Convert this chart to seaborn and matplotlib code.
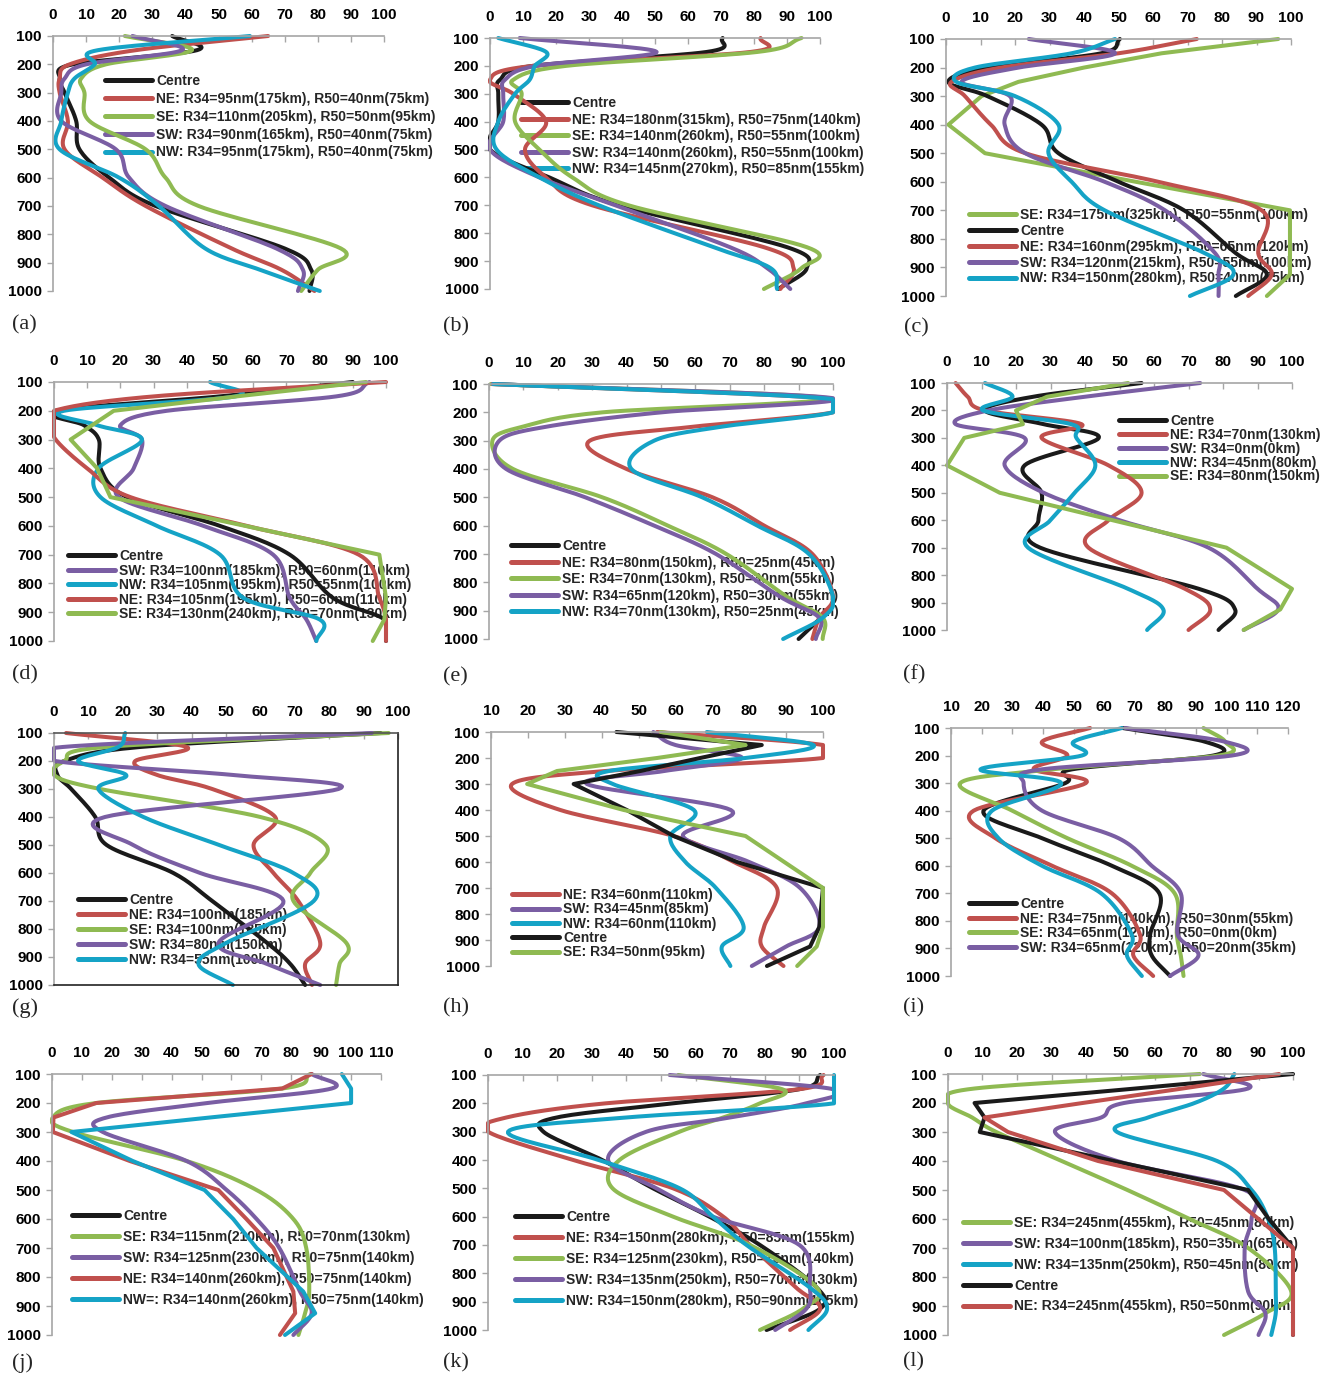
import numpy as np
import matplotlib
matplotlib.use("Agg")
import matplotlib.pyplot as plt
import seaborn as sns

nan = np.nan
levels = [100, 150, 200, 250, 300, 400, 500, 600, 700, 850, 925, 1000]

# (a)
a_centre = [36, 43.5, 6, 2, 3.5, 7, 8, 17, 31, 70, 78, 77.5]
a_ne = [65, 25, 5, 2, 2, 4.5, 3.5, 15, 28, 54, 69, 79]
a_se = [21.7, 42, 16, 8.5, 9.5, 11, 28, 34, 44, 87, 80, 75]
a_sw = [24, 39, 10, 3.5, 2.5, 2.5, 19, 23, 34, 67.5, 75.5, 74]
a_nw = [59.5, 13.6, 12.6, 6.5, 4.5, 2.5, 2, 20, 32, 46, 62.5, 80.6]
# (b)
b_centre = [70.5, 65.7, 13, 3, 2.5, 2.5, 0, 18, 39, 90, 96, 87.4]
b_ne = [82, 79, 13, 0, 7, 17, 10.6, 17, 31, 83, 92, 88]
b_se = [94.4, 81, 23, 7, 9.6, 7.6, 15, 25, 42, 96, 94.4, 83]
b_sw = [9, 50.5, 14, 4.5, 4, 4, 0, 15, 38, 72.7, 84, 91]
b_nw = [2.5, 17, 13.6, 12, 7.6, 2.5, 2, 15, 33, 67.7, 85, 87]
# (c)
c_se = [96.3, 62.5, 40, 21, 10.3, 0.7, 11.3, 55, 99.7, 99.7, 99.7, 93]
c_centre = [50.4, 45, 12, 0.7, 12, 27.7, 32.6, 50, 69, 84, 93, 84]
c_ne = [72.7, 50, 16, 1.6, 5.5, 13, 23, 61.5, 91.5, 90.5, 94.4, 87.6]
c_sw = [24, 49, 21, 4.5, 18.5, 17, 23, 46, 63.5, 78, 79, 79]
c_nw = [49, 36.4, 8.4, 3, 20, 32.6, 29.7, 36.4, 46, 75, 83.3, 70.7]
# (d)
d_centre = [90, 50, 0.5, 9, 13.5, 14, 22, 50, 71, 84, 99.5, 100]
d_sw = [95, 85, 34, 20, 26.5, 24, 19.5, 45, 66, 71, 76, 79]
d_nw = [47, 54.6, 3, 13, 26.5, 13.4, 14, 31, 50, 57, 80, 79]
d_ne = [100, 30, 0, 0, 0.5, 10, 23, 58, 91.8, 98, 100, 100]
d_se = [94, 55, 18, 11.5, 5, 13, 17, 57.6, 98, 100, 99.5, 96]
# (e)
e_centre = [nan, nan, nan, nan, nan, nan, nan, nan, nan, nan, 96.5, 90]
e_ne = [1, 97, 100, 60, 29.3, 40, 65, 80, 94, 100, 96, 94]
e_se = [0.5, 98, 33, 10, 1, 7, 33, 52, 69, 86.5, 97, 97]
e_sw = [1, 100, 50, 17, 3, 5, 28, 48, 66, 84.5, 96, 95]
e_nw = [1.3, 97, 100, 68, 48, 41.4, 62, 78, 93, 100, 97, 85.5]
# (f)
f_centre = [56.4, 25, 11, 28, 44, 22.5, 27.4, 26.5, 27, 73, 83.5, 78.7]
f_ne = [2.5, 6, 11, 39, 27.4, 46.8, 56.4, 46.8, 41, 69, 76.3, 70]
f_sw = [73.4, 40, 12, 2.5, 22.5, 16.7, 28, 50, 75.8, 90, 96, 86]
f_nw = [11, 19, 10.5, 36, 37.5, 43, 37, 30, 23.5, 52.5, 62.7, 58]
f_se = [52.5, 29, 20, 22, 5, 0, 15.3, 48, 81, 100, 96.6, 86]
# (g)
g_centre = [95, 25, 3, 1, 5, 12, 15.3, 34.7, 46, 62, 68.7, 73]
g_ne = [3.5, 38.6, 23.6, 30, 46, 64.3, 58, 63.8, 71, 77.4, 73, 75]
g_se = [97.3, 15, 3, 0, 13.4, 60, 79, 74.5, 69.6, 85, 83, 82]
g_sw = [92.4, 2.5, 0.3, 52, 82.7, 14.8, 23, 42.5, 66.7, 47.8, 62, 77.4]
g_nw = [20.7, 18.7, 7, 21, 12.9, 26, 48, 69.6, 75.5, 50, 42, 52]
# (h)
h_ne = [55, 100, 100, 41, 15.7, 28.8, 59.5, 75.8, 87.5, 84, 83.4, 89.3]
h_sw = [54, 60, 78, 57, 36, 75, 62, 80, 93.8, 99, 90, 80.7]
h_nw = [68.5, 97.4, 79, 42, 43, 65, 58.6, 62.7, 71, 78.5, 72.6, 74.9]
h_centre = [44, 83.4, 66.7, 50.5, 32.4, 46.8, 59.5, 76.7, 100, 99, 96.5, 84.8]
h_se = [56, 79, 55, 27.9, 19.8, 46, 79, 89.5, 100, 100, 98.3, 93]
# (i)
i_centre = [66, 93, 95.6, 49.5, 47.3, 20.6, 39.7, 62.5, 78, 75, 75.5, 81.5]
i_ne = [55.4, 39.7, 48, 37, 54, 17.4, 24.5, 43, 62.5, 71.7, 69.5, 76]
i_se = [92.4, 99.5, 97.3, 43, 13, 30, 48, 69, 83, 83.7, 85, 85.9]
i_sw = [66.8, 99.5, 101.6, 39.7, 33.7, 39.7, 64.7, 75.5, 85, 84, 90.8, 81.5]
i_nw = [65.8, 50, 52.7, 19.6, 46, 23.4, 25.5, 39.7, 59, 69, 67.4, 72.3]
# (j)
j_centre = [nan] * 12
j_se = [86.3, 77, 14.8, 0.3, 7, 45, 68.4, 80.7, 85, 86, 84.6, 82.4]
j_sw = [86.8, 93.5, 52, 18.2, 17, 45, 58.4, 68.4, 76, 82.9, 86.8, 80.7]
j_ne = [86.8, 77, 14.8, 0.5, 0.3, 26, 55.6, 65, 74, 80.7, 81.3, 76.2]
j_nw = [96.9, 100, 100, 52.8, 6.5, 27, 51, 60.6, 68.4, 84, 88, 77.9]
# (k)
k_centre = [96, 90, 53.5, 19.8, 16, 33, 47.7, 64, 78.6, 95, 96, 80.5]
k_ne = [97, 90, 34, 5.3, 0, 24.6, 53.5, 68, 75.7, 89, 96, 87.3]
k_se = [55, 85, 78.6, 68, 55.4, 38, 36, 53.5, 75.7, 95, 91, 78.6]
k_sw = [52.5, 99.8, 92, 70, 45.8, 34.7, 48.7, 65, 90, 93, 92, 83]
k_nw = [100, 100, 100, 40, 5.8, 32, 55.4, 65, 74.7, 93, 98, 92.6]
# (l)
l_se = [73, 7.7, 0, 7, 14, 33, 52, 70, 87, 99.5, 92, 80]
l_sw = [74, 87, 51, 44.4, 31, 49, 86, 88, 86, 87, 92, 90]
l_nw = [83, 80, 71.5, 58, 49, 78, 88, 92.8, 94.7, 95, 95, 93.7]
l_centre = [100, 54.4, 7.7, 10.6, 9.2, 48, 87, 93, 100, 100, 100, 100]
l_ne = [96, 68, 39, 10.6, 17.4, 43.5, 80, 90, 100, 100, 100, 100]

colors = {"Centre": "#1a1a1a", "NE": "#c0504d", "SE": "#8fba52",
          "SW": "#7a5ea3", "NW": "#15a3c6"}

panels = [
    ("(a)", (0, 100), [("Centre", "Centre", a_centre),
                       ("NE", "NE: R34=95nm(175km), R50=40nm(75km)", a_ne),
                       ("SE", "SE: R34=110nm(205km), R50=50nm(95km)", a_se),
                       ("SW", "SW: R34=90nm(165km), R50=40nm(75km)", a_sw),
                       ("NW", "NW: R34=95nm(175km), R50=40nm(75km)", a_nw)]),
    ("(b)", (0, 100), [("Centre", "Centre", b_centre),
                       ("NE", "NE: R34=180nm(315km), R50=75nm(140km)", b_ne),
                       ("SE", "SE: R34=140nm(260km), R50=55nm(100km)", b_se),
                       ("SW", "SW: R34=140nm(260km), R50=55nm(100km)", b_sw),
                       ("NW", "NW: R34=145nm(270km), R50=85nm(155km)", b_nw)]),
    ("(c)", (0, 100), [("SE", "SE: R34=175nm(325km), R50=55nm(100km)", c_se),
                       ("Centre", "Centre", c_centre),
                       ("NE", "NE: R34=160nm(295km), R50=65nm(120km)", c_ne),
                       ("SW", "SW: R34=120nm(215km), R50=55nm(100km)", c_sw),
                       ("NW", "NW: R34=150nm(280km), R50=40nm(75km)", c_nw)]),
    ("(d)", (0, 100), [("Centre", "Centre", d_centre),
                       ("SW", "SW: R34=100nm(185km), R50=60nm(110km)", d_sw),
                       ("NW", "NW: R34=105nm(195km), R50=55nm(100km)", d_nw),
                       ("NE", "NE: R34=105nm(195km), R50=60nm(110km)", d_ne),
                       ("SE", "SE: R34=130nm(240km), R50=70nm(130km)", d_se)]),
    ("(e)", (0, 100), [("Centre", "Centre", e_centre),
                       ("NE", "NE: R34=80nm(150km), R50=25nm(45km)", e_ne),
                       ("SE", "SE: R34=70nm(130km), R50=30nm(55km)", e_se),
                       ("SW", "SW: R34=65nm(120km), R50=30nm(55km)", e_sw),
                       ("NW", "NW: R34=70nm(130km), R50=25nm(45km)", e_nw)]),
    ("(f)", (0, 100), [("Centre", "Centre", f_centre),
                       ("NE", "NE: R34=70nm(130km)", f_ne),
                       ("SW", "SW: R34=0nm(0km)", f_sw),
                       ("NW", "NW: R34=45nm(80km)", f_nw),
                       ("SE", "SE: R34=80nm(150km)", f_se)]),
    ("(g)", (0, 100), [("Centre", "Centre", g_centre),
                       ("NE", "NE: R34=100nm(185km)", g_ne),
                       ("SE", "SE: R34=100nm(185km)", g_se),
                       ("SW", "SW: R34=80nm(150km)", g_sw),
                       ("NW", "NW: R34=55nm(100km)", g_nw)]),
    ("(h)", (10, 100), [("NE", "NE: R34=60nm(110km)", h_ne),
                        ("SW", "SW: R34=45nm(85km)", h_sw),
                        ("NW", "NW: R34=60nm(110km)", h_nw),
                        ("Centre", "Centre", h_centre),
                        ("SE", "SE: R34=50nm(95km)", h_se)]),
    ("(i)", (10, 120), [("Centre", "Centre", i_centre),
                        ("NE", "NE: R34=75nm(140km), R50=30nm(55km)", i_ne),
                        ("SE", "SE: R34=65nm(120km), R50=0nm(0km)", i_se),
                        ("SW", "SW: R34=65nm(120km), R50=20nm(35km)", i_sw),
                        ("NW", "_nolegend_", i_nw)]),
    ("(j)", (0, 110), [("Centre", "Centre", j_centre),
                       ("SE", "SE: R34=115nm(210km), R50=70nm(130km)", j_se),
                       ("SW", "SW: R34=125nm(230km), R50=75nm(140km)", j_sw),
                       ("NE", "NE: R34=140nm(260km), R50=75nm(140km)", j_ne),
                       ("NW", "NW=: R34=140nm(260km), R50=75nm(140km)", j_nw)]),
    ("(k)", (0, 100), [("Centre", "Centre", k_centre),
                       ("NE", "NE: R34=150nm(280km), R50=85nm(155km)", k_ne),
                       ("SE", "SE: R34=125nm(230km), R50=75nm(140km)", k_se),
                       ("SW", "SW: R34=135nm(250km), R50=70nm(130km)", k_sw),
                       ("NW", "NW: R34=150nm(280km), R50=90nm(165km)", k_nw)]),
    ("(l)", (0, 100), [("SE", "SE: R34=245nm(455km), R50=45nm(80km)", l_se),
                       ("SW", "SW: R34=100nm(185km), R50=35nm(65km)", l_sw),
                       ("NW", "NW: R34=135nm(250km), R50=45nm(80km)", l_nw),
                       ("Centre", "Centre", l_centre),
                       ("NE", "NE: R34=245nm(455km), R50=50nm(90km)", l_ne)]),
]

# series drawn with straight segments instead of smoothed lines
straight = {"(c)": {"SE"}, "(d)": {"SE"}, "(f)": {"SE"}, "(h)": {"SE", "Centre"},
            "(j)": {"NE", "NW"}, "(l)": {"Centre", "NE"}}

# layout in pixels: axes box (left, right, top, bottom), legend (x, first row y, row step), tag (x, y)
W, H = 1332, 1378
layout = {
    "(a)": ((53, 384, 36, 291), (105, 82, 19.3), (12, 325)),
    "(b)": ((490, 820, 38, 289), (521, 104, 18), (443, 327)),
    "(c)": ((946, 1291, 39, 296), (969, 216, 17.3), (904, 328)),
    "(d)": ((54, 386, 382, 641), (68, 557, 16), (12, 675)),
    "(e)": ((489, 833, 384, 639), (511, 547, 18), (443, 677)),
    "(f)": ((947, 1292, 383, 630), (1119, 422, 15.3), (903, 675)),
    "(g)": ((54, 398, 733, 985), (78, 901, 16.4), (12, 1008)),
    "(h)": ((491, 823, 732, 966), (512, 896, 15.8), (443, 1008)),
    "(i)": ((951, 1288, 728, 976), (969, 905, 16), (903, 1008)),
    "(j)": ((52, 381, 1074, 1335), (72, 1217, 22.5), (12, 1363)),
    "(k)": ((488, 834, 1075, 1330), (515, 1218, 22.5), (443, 1363)),
    "(l)": ((948, 1293, 1074, 1335), (963, 1224, 22.3), (903, 1362)),
}


def smooth(xs, ys, lo, hi, n=16):
    # Catmull-Rom curve through the points, like the smoothed lines of the original
    pts = np.column_stack([xs, ys])
    if len(pts) < 3:
        return pts
    p = np.vstack([2 * pts[0] - pts[1], pts, 2 * pts[-1] - pts[-2]])
    t = np.linspace(0, 1, n, endpoint=False)[:, None]
    out = []
    for i in range(1, len(p) - 2):
        p0, p1, p2, p3 = p[i - 1], p[i], p[i + 1], p[i + 2]
        out.append(0.5 * (2 * p1 + (p2 - p0) * t + (2 * p0 - 5 * p1 + 4 * p2 - p3) * t ** 2
                          + (3 * p1 - p0 - 3 * p2 + p3) * t ** 3))
    out.append(pts[-1:])
    out = np.vstack(out)
    out[:, 0] = np.clip(out[:, 0], lo, hi)
    return out


sns.set_theme(style="white")
plt.rcParams["font.family"] = ["Liberation Sans", "DejaVu Sans"]
plt.rcParams["font.weight"] = "bold"

fig = plt.figure(figsize=(W / 100, H / 100), dpi=100)
grey = "#a6a6a6"
fs_px = 10 * 100 / 72
lw = 2.9

for tag, xlim, series in panels:
    (l, r, t, b), (lx, ly, step), (tx, ty) = layout[tag]
    ax = fig.add_axes([l / W, 1 - b / H, (r - l) / W, (b - t) / H])
    handles, labels = [], []
    for key, label, vals in series:
        v = np.array(vals, dtype=float)
        p = np.array(levels, dtype=float)
        ok = ~np.isnan(v)
        if ok.sum() == 0:
            line, = ax.plot([], [], color=colors[key], lw=lw)
        else:
            xy = np.column_stack([v[ok], p[ok]])
            if key not in straight.get(tag, set()):
                xy = smooth(xy[:, 0], xy[:, 1], xlim[0], xlim[1])
            sns.lineplot(x=xy[:, 0], y=xy[:, 1], sort=False, estimator=None, ax=ax,
                         color=colors[key], lw=lw, clip_on=False,
                         solid_capstyle="round", solid_joinstyle="round")
            line = ax.get_lines()[-1]
        if not label.startswith("_"):
            handles.append(line)
            labels.append(label)

    ax.set_xlim(*xlim)
    ax.set_ylim(1000, 100)
    ax.set_xlabel("")
    ax.set_ylabel("")
    ax.set_xticks(np.arange(xlim[0], xlim[1] + 1, 10))
    ax.set_yticks(np.arange(100, 1001, 100))
    ax.xaxis.tick_top()
    ax.tick_params(axis="x", direction="in", length=4, width=1, color=grey,
                   pad=10, labelsize=11, labelcolor="black")
    ax.tick_params(axis="y", direction="out", length=4, width=1, color=grey,
                   pad=4, labelsize=11, labelcolor="black", left=True)
    for side in ["top", "left"]:
        ax.spines[side].set_color(grey)
        ax.spines[side].set_linewidth(1.2)
    if tag == "(g)":
        for side in ["right", "bottom"]:
            ax.spines[side].set_color("#222222")
            ax.spines[side].set_linewidth(1.2)
        ax.spines["top"].set_color("#555555")
    else:
        ax.spines["right"].set_visible(False)
        ax.spines["bottom"].set_visible(False)

    leg = ax.legend(handles, labels, loc="upper left",
                    bbox_to_anchor=(lx / W, 1 - (ly - 7.8) / H),
                    bbox_transform=fig.transFigure, frameon=False, borderpad=0,
                    borderaxespad=0, handlelength=3.4, handletextpad=0.3,
                    labelspacing=(step - 15.5) / fs_px,
                    prop={"size": 10, "weight": "bold"})
    for h in leg.get_lines():
        h.set_linewidth(3.6)
    leg.set_zorder(1.5)

    fig.text(tx / W, 1 - ty / H, tag, family=["Liberation Serif"], fontweight="normal",
             fontsize=16, ha="left", va="center")

fig.savefig("out.png", dpi=100)
